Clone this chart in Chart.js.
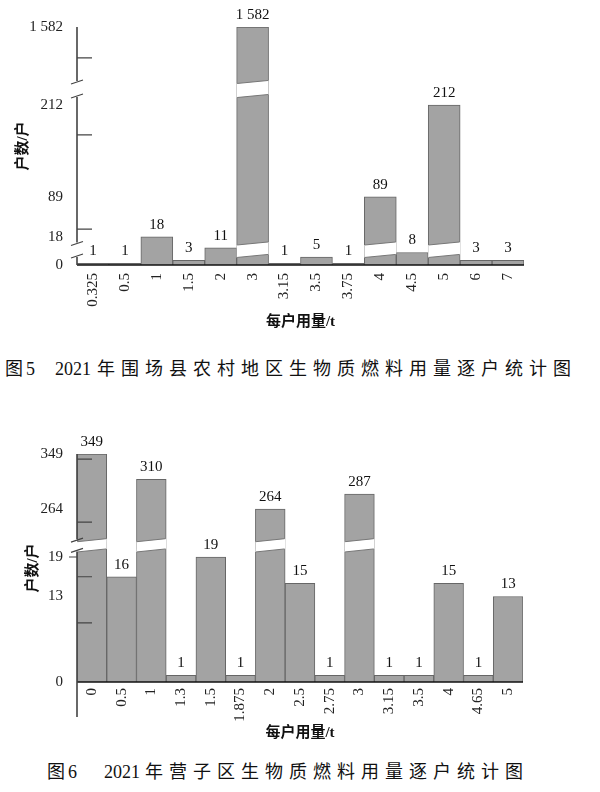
<!DOCTYPE html>
<html>
<head>
<meta charset="utf-8">
<script src="https://cdn.jsdelivr.net/npm/chart.js@4.4.0/dist/chart.umd.min.js"></script>
<style>
  body { margin: 0; background: #fff; width: 600px; height: 792px; position: relative; overflow: hidden; }
  .box { position: absolute; left: 0; width: 600px; }
  .cap { position: absolute; font-family: 'Liberation Serif', 'Noto Sans CJK SC', serif; font-size: 18px;
         line-height: 18px; color: #111; white-space: nowrap; }
  .cap .cjk { letter-spacing: 6px; }
</style>
</head>
<body>
<div class="box" style="top:0;height:340px"><canvas id="fig5" width="600" height="340"></canvas></div>
<div class="cap" style="left:5px;top:360px">图<span style="margin-left:3px">5</span><span style="margin-left:20px">2021</span><span class="cjk" style="margin-left:6px">年围场县农村地区生物质燃料用量逐户统计图</span></div>
<div class="box" style="top:420px;height:335px"><canvas id="fig6" width="600" height="335"></canvas></div>
<div class="cap" style="left:47px;top:763px">图<span style="margin-left:3px">6</span><span style="margin-left:27px">2021</span><span class="cjk" style="margin-left:5px">年营子区生物质燃料用量逐户统计图</span></div>

<script>
// 图5 围场县：每户用量(t) / 户数
var cats5 = ['0.325', '0.5', '1', '1.5', '2', '3', '3.15', '3.5', '3.75', '4', '4.5', '5', '6', '7'];
var hh5 = [1, 1, 18, 3, 11, 1582, 1, 5, 1, 89, 8, 212, 3, 3];
var yTicks5 = [0, 18, 89, 212, 1582];
var yLabels5 = ['0', '18', '89', '212', '1 582'];

// 图6 营子区
var cats6 = ['0', '0.5', '1', '1.3', '1.5', '1.875', '2', '2.5', '2.75', '3', '3.15', '3.5', '4', '4.65', '5'];
var hh6 = [349, 16, 310, 1, 19, 1, 264, 15, 1, 287, 1, 1, 15, 1, 13];
var yTicks6 = [0, 13, 19, 264, 349];
var yLabels6 = ['0', '13', '19', '264', '349'];

var FONT = "'Liberation Serif', 'Noto Sans CJK SC', serif";
Chart.defaults.font.family = FONT;
Chart.defaults.color = '#222';

// piecewise mapping value -> fraction of axis height (broken axis)
function toFrac(knots, v) {
  for (var i = 0; i < knots.length - 1; i++) {
    var a = knots[i], b = knots[i + 1];
    if (v <= b[0] || i === knots.length - 2) {
      return a[1] + (v - a[0]) / (b[0] - a[0]) * (b[1] - a[1]);
    }
  }
}
function toValue(knots, f) {
  for (var i = 0; i < knots.length - 1; i++) {
    var a = knots[i], b = knots[i + 1];
    if (f <= b[1] || i === knots.length - 2) {
      return a[0] + (f - a[1]) / (b[1] - a[1]) * (b[0] - a[0]);
    }
  }
}

class BrokenScale extends Chart.LinearScale {
  buildTicks() {
    return this.options.tickValues.map(function (v) { return { value: v }; });
  }
  getPixelForValue(value) {
    return this.getPixelForDecimal(toFrac(this.options.knots, value));
  }
  getValueForPixel(pixel) {
    return toValue(this.options.knots, this.getDecimalForPixel(pixel));
  }
}
BrokenScale.id = 'broken';
BrokenScale.defaults = Chart.LinearScale.defaults;
Chart.register(BrokenScale);

function fmt(v) {
  return String(v).replace(/\B(?=(\d{3})+(?!\d))/g, ' ');
}

var brokenAxis = {
  id: 'brokenAxis',
  afterDatasetsDraw: function (chart, args, opts) {
    var ctx = chart.ctx, y = chart.scales.y, area = chart.chartArea;
    var meta = chart.getDatasetMeta(0);
    var vals = chart.data.datasets[0].data;
    var s = 1.5;
    ctx.save();

    // white cuts across tall bars
    opts.bands.forEach(function (b) {
      var yLo = y.getPixelForValue(b.lo), yHi = y.getPixelForValue(b.hi);
      meta.data.forEach(function (bar, i) {
        if (vals[i] <= b.above) return;
        var l = bar.x - bar.width / 2, r = bar.x + bar.width / 2;
        ctx.fillStyle = '#fff';
        ctx.beginPath();
        ctx.moveTo(l, yLo + s); ctx.lineTo(r, yLo - s);
        ctx.lineTo(r, yHi - s); ctx.lineTo(l, yHi + s);
        ctx.closePath(); ctx.fill();
        ctx.strokeStyle = '#777'; ctx.lineWidth = 1;
        ctx.beginPath();
        ctx.moveTo(l + 0.5, yLo + s); ctx.lineTo(r - 0.5, yLo - s);
        ctx.moveTo(l + 0.5, yHi + s); ctx.lineTo(r - 0.5, yHi - s);
        ctx.stroke();
      });
    });

    // baseline
    var base = y.getPixelForValue(0);
    ctx.strokeStyle = '#111'; ctx.lineWidth = 1.6;
    ctx.beginPath(); ctx.moveTo(area.left, base); ctx.lineTo(area.right, base); ctx.stroke();

    // y axis with gaps
    var x0 = area.left;
    var gaps = opts.bands.map(function (b) {
      return [y.getPixelForValue(b.hi), y.getPixelForValue(b.lo)];
    }).sort(function (a, b) { return a[0] - b[0]; });
    ctx.strokeStyle = '#444'; ctx.lineWidth = 1.6;
    ctx.beginPath();
    var yStart = area.top;
    gaps.forEach(function (g) {
      ctx.moveTo(x0, yStart); ctx.lineTo(x0, g[0] - 1);
      yStart = g[1] + 1;
    });
    ctx.moveTo(x0, yStart); ctx.lineTo(x0, base + opts.extend);
    ctx.stroke();

    ctx.lineWidth = 1.2;
    ctx.beginPath();
    gaps.forEach(function (g) {
      [g[0], g[1]].forEach(function (py) {
        ctx.moveTo(x0 - 6, py + 2); ctx.lineTo(x0 + 6, py - 2);
      });
    });
    opts.ticksIn.forEach(function (v) {
      var py = y.getPixelForValue(v);
      ctx.moveTo(x0, py); ctx.lineTo(x0 + 15, py);
    });
    opts.ticksOut.forEach(function (v) {
      var py = y.getPixelForValue(v);
      ctx.moveTo(x0 - 8, py); ctx.lineTo(x0, py);
    });
    ctx.stroke();

    // value labels
    ctx.fillStyle = '#111';
    ctx.font = '15px ' + FONT;
    ctx.textAlign = 'center';
    ctx.textBaseline = 'middle';
    meta.data.forEach(function (bar, i) {
      ctx.fillText(fmt(vals[i]), bar.x, bar.y - 12);
    });
    ctx.restore();
  }
};

function drawChart(id, cats, vals, yTicks, yLabels, cfg) {
  var ctx = document.getElementById(id).getContext('2d');
  return new Chart(ctx, {
    type: 'bar',
    data: {
      labels: cats,
      datasets: [{
        data: vals,
        backgroundColor: '#a3a3a3',
        borderColor: '#666',
        borderWidth: 1,
        barPercentage: 1,
        categoryPercentage: 1
      }]
    },
    options: {
      responsive: false,
      animation: false,
      layout: { padding: { top: cfg.top, right: cfg.right, left: 0, bottom: 0 } },
      plugins: {
        legend: { display: false },
        tooltip: { enabled: false },
        brokenAxis: cfg.axis
      },
      scales: {
        x: {
          grid: { display: false, drawTicks: false },
          border: { display: false },
          ticks: { font: { size: 15 }, color: '#222', minRotation: 90, maxRotation: 90, autoSkip: false, padding: cfg.xPad },
          title: { display: true, text: '每户用量/t', font: { size: 15, weight: 'bold' }, color: '#111', padding: { top: 0, bottom: cfg.xTitlePad } },
          afterFit: function (s) { s.height = cfg.xHeight; }
        },
        y: {
          type: 'broken',
          min: 0,
          max: cfg.max,
          knots: cfg.knots,
          tickValues: yTicks,
          grid: { display: false, drawTicks: false },
          border: { display: false },
          ticks: {
            font: { size: 15 }, color: '#222', padding: 14,
            callback: function (v) { return yLabels[yTicks.indexOf(v)]; }
          },
          title: { display: true, text: '户数/户', font: { size: 15, weight: 'bold' }, color: '#111', padding: { top: cfg.yTitlePad, bottom: 0 } },
          afterFit: function (s) { s.width = 77; }
        }
      }
    },
    plugins: [brokenAxis]
  });
}

drawChart('fig5', cats5, hh5, yTicks5, yLabels5, {
  top: 27, right: 76, xHeight: 75, xPad: 8, xTitlePad: 9, yTitlePad: 14, max: 1582,
  knots: [[0, 0], [18, 0.118], [89, 0.286], [212, 0.672], [235, 0.71], [1420, 0.769], [1582, 1]],
  axis: {
    bands: [{ lo: 5.8, hi: 13.8, above: 18 }, { lo: 235, hi: 1420, above: 212 }],
    ticksIn: [32, 172, 1491],
    ticksOut: [],
    extend: 0
  }
});

drawChart('fig6', cats6, hh6, yTicks6, yLabels6, {
  top: 34, right: 77, xHeight: 73, xPad: 6, xTitlePad: 13, yTitlePad: 24, max: 349,
  knots: [[0, 0], [20, 0.577], [216, 0.622], [349, 1]],
  axis: {
    bands: [{ lo: 20, hi: 216, above: 19 }],
    ticksIn: [9, 16, 244, 341],
    ticksOut: [19],
    extend: 35
  }
});
</script>
</body>
</html>
